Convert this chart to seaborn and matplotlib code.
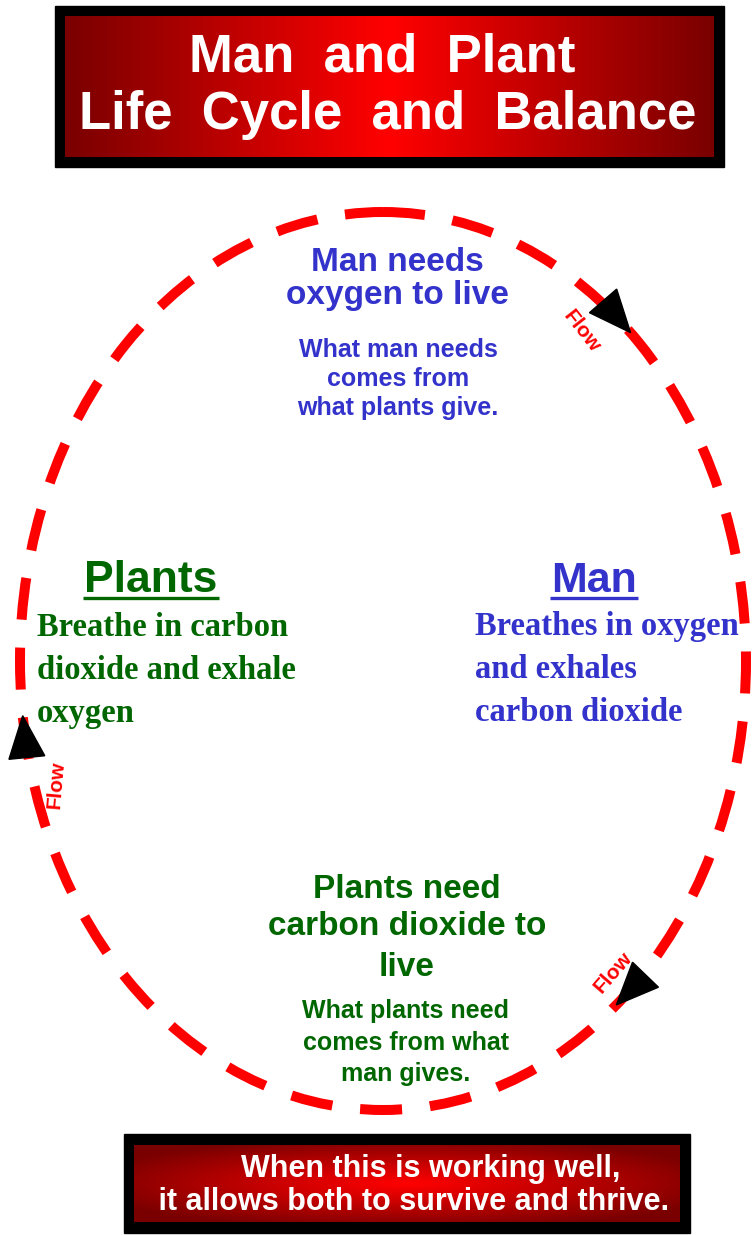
import numpy as np
import matplotlib.pyplot as plt
import seaborn as sns
from matplotlib.patches import Ellipse, Rectangle, Polygon
from matplotlib.colors import LinearSegmentedColormap

# Texte des Diagramms
title_lines = ["Man  and  Plant", "Life  Cycle  and  Balance"]
man_need_lines = ["Man needs", "oxygen to live"]
man_note_lines = ["What man needs", "comes from", "what plants give."]
plants_head = "Plants"
plants_body = ["Breathe in carbon", "dioxide and exhale", "oxygen"]
man_head = "Man"
man_body = ["Breathes in oxygen", "and exhales", "carbon dioxide"]
plant_need_lines = ["Plants need", "carbon dioxide to", "live"]
plant_note_lines = ["What plants need", "comes from what", "man gives."]
footer_lines = ["When this is working well,", " it allows both to survive and thrive."]
flow_label = "Flow"
# Kreislauf: Winkel (Grad) der Pfeilspitzen auf der Ellipse
arrow_angles = [-47, 173, 50]
flow_angles = [-52, 85, 49]

sns.set_theme(style="white")
plt.rcParams['font.family'] = ['Liberation Sans', 'DejaVu Sans']

BLUE = '#3333cc'
GREEN = '#006600'
RED = '#ff0000'
SANS = 'Liberation Sans'
SERIF = 'Liberation Serif'

fig = plt.figure(figsize=(7.56, 12.35), dpi=100)
ax = fig.add_axes([0, 0, 1, 1])
ax.set_xlim(0, 756)
ax.set_ylim(1235, 0)
ax.axis('off')

red_cmap = LinearSegmentedColormap.from_list('rot', ['#ff0000', '#7a0000'])

# Titelbox mit horizontalem Verlauf
ax.add_patch(Rectangle((55, 6), 669, 161, color='black', zorder=1))
grad = np.abs(np.linspace(-1, 1, 300))[None, :]
ax.imshow(grad, cmap=red_cmap, extent=[65, 714, 157, 16], aspect='auto', zorder=2)
for line, xc, yb in zip(title_lines, [382, 388], [71, 129]):
    ax.text(xc, yb, line, color='white', fontsize=38, fontweight='bold',
            family=SANS, ha='center', va='baseline', zorder=3)

# Fussbox mit radialem Verlauf
ax.add_patch(Rectangle((124, 1134), 566, 99, color='black', zorder=1))
gx, gy = np.meshgrid(np.linspace(-1, 1, 300), np.linspace(-1, 1, 80))
rad = np.clip(np.sqrt(gx ** 2 + gy ** 2) / 1.2, 0, 1)
ax.imshow(rad, cmap=red_cmap, extent=[134, 680, 1222, 1145], aspect='auto', zorder=2)
for line, xc, yb in zip(footer_lines, [431, 410], [1177, 1210]):
    ax.text(xc, yb, line, color='white', fontsize=22, fontweight='bold',
            family=SANS, ha='center', va='baseline', zorder=3)

# Gestrichelte Ellipse
cx, cy, a, b = 383, 661, 363, 449
ax.add_patch(Ellipse((cx, cy), 2 * a, 2 * b, fill=False, ec=RED, lw=7.2,
                     linestyle=(0, (4.2, 2.8)), zorder=2))

# Pfeilspitzen im Uhrzeigersinn
for ang in arrow_angles:
    t = np.deg2rad(ang)
    tip = np.array([cx + a * np.cos(t), cy + b * np.sin(t)])
    d = np.array([-a * np.sin(t), b * np.cos(t)])
    d /= np.linalg.norm(d)
    n = np.array([-d[1], d[0]])
    base = tip - 42 * d
    tri = [tip, base + 18 * n, base - 18 * n]
    ax.add_patch(Polygon(tri, closed=True, color='black', zorder=4))

# "Flow"-Beschriftungen
for (fx, fy), rot in zip([(582, 331), (56, 785), (613, 972)], flow_angles):
    ax.text(fx, fy, flow_label, color=RED, fontsize=15, fontweight='bold',
            family=SANS, rotation=rot, ha='center', va='center',
            rotation_mode='anchor', zorder=3)

# Oberer Textblock (Mensch)
for line, yb in zip(man_need_lines, [271, 304]):
    ax.text(397, yb, line, color=BLUE, fontsize=24, fontweight='bold',
            family=SANS, ha='center', va='baseline')
for line, yb in zip(man_note_lines, [357, 386, 415]):
    ax.text(398, yb, line, color=BLUE, fontsize=18, fontweight='bold',
            family=SANS, ha='center', va='baseline')

# Seitliche Überschriften mit Unterstreichung
ax.text(151, 592, plants_head, color=GREEN, fontsize=32, fontweight='bold',
        family=SANS, ha='center', va='baseline')
ax.plot([83, 219], [598, 598], color=GREEN, lw=2.4, solid_capstyle='butt')
ax.text(594, 592, man_head, color=BLUE, fontsize=31, fontweight='bold',
        family=SANS, ha='center', va='baseline')
ax.plot([550, 638], [598, 598], color=BLUE, lw=2.4, solid_capstyle='butt')

for line, yb in zip(plants_body, [636, 679, 722]):
    ax.text(37, yb, line, color=GREEN, fontsize=23.5, fontweight='bold',
            family=SERIF, ha='left', va='baseline')
for line, yb in zip(man_body, [635, 678, 721]):
    ax.text(475, yb, line, color=BLUE, fontsize=23.5, fontweight='bold',
            family=SERIF, ha='left', va='baseline')

# Unterer Textblock (Pflanzen)
for line, yb in zip(plant_need_lines, [898, 935, 976]):
    ax.text(407, yb, line, color=GREEN, fontsize=24, fontweight='bold',
            family=SANS, ha='center', va='baseline')
for line, yb in zip(plant_note_lines, [1018, 1050, 1081]):
    ax.text(406, yb, line, color=GREEN, fontsize=18, fontweight='bold',
            family=SANS, ha='center', va='baseline')

plt.savefig("out.png", dpi=100)
